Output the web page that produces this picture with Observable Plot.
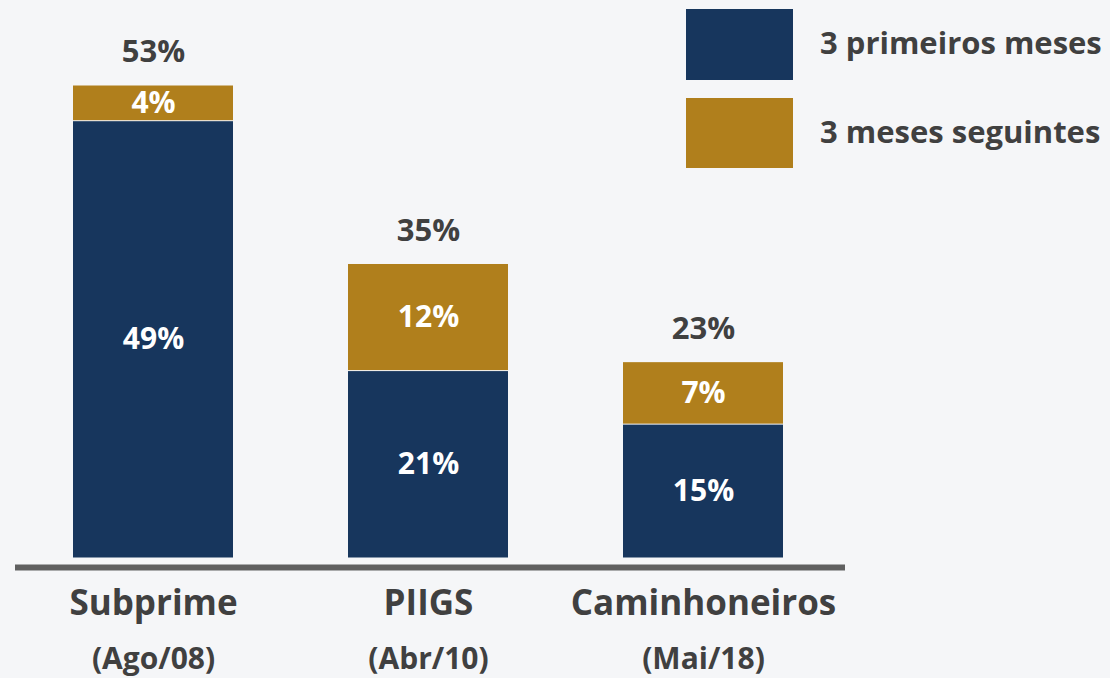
<!DOCTYPE html>
<html>
<head>
<meta charset="utf-8">
<script src="https://cdn.jsdelivr.net/npm/d3@7"></script>
<script src="https://cdn.jsdelivr.net/npm/@observablehq/plot@0.6"></script>
<style>
  html, body { margin: 0; padding: 0; background: #f5f6f8; }
  body { width: 1110px; height: 678px; position: relative; overflow: hidden; font-family: "Open Sans", sans-serif; }
  #chart { position: absolute; left: 0; top: 0; }
  .legend { position: absolute; left: 686px; top: 9px; }
  .item { position: absolute; left: 0; width: 440px; }
  .sw { position: absolute; left: 0; width: 107px; }
  .lbl { position: absolute; left: 134px; font-weight: 700; font-size: 31px; color: #404040; white-space: nowrap; line-height: 1; }
</style>
</head>
<body>
<div id="chart"></div>
<div class="legend" id="legend"></div>
<script>
const categories = ["Subprime", "PIIGS", "Caminhoneiros"];
const dates = ["(Ago/08)", "(Abr/10)", "(Mai/18)"];
const series = ["3 primeiros meses", "3 meses seguintes"];
const first3 = [49, 21, 15];
const next3 = [4, 12, 7];
const totals = [53, 35, 23];
const colors = ["#17365d", "#b07f1c"];

const stacked = [];
categories.forEach((c, i) => {
  stacked.push({cat: c, series: series[0], value: first3[i]});
  stacked.push({cat: c, series: series[1], value: next3[i]});
});
const totalRows = categories.map((c, i) => ({cat: c, total: totals[i], top: first3[i] + next3[i], date: dates[i]}));

const font = "Open Sans, sans-serif";

const chart = Plot.plot({
  width: 1110,
  height: 678,
  marginLeft: 72,
  marginRight: 327,
  marginTop: 85,
  marginBottom: 120,
  style: {background: "transparent", fontFamily: font},
  x: {domain: categories, paddingInner: 0.419, paddingOuter: 0, axis: null},
  y: {domain: [0, 53], axis: null},
  color: {domain: series, range: colors},
  marks: [
    Plot.barY(stacked, Plot.stackY({x: "cat", y: "value", z: "series", fill: "series", order: series, insetTop: 0.5, insetBottom: 0.5})),
    Plot.text(stacked, Plot.stackY({x: "cat", y: "value", z: "series", order: series, text: d => d.value + "%", fill: "#ffffff", fontSize: 30, fontWeight: 700, fontFamily: font})),
    Plot.text(totalRows, {x: "cat", y: "top", text: d => d.total + "%", dy: -33, fill: "#404040", fontSize: 31, fontWeight: 700, fontFamily: font}),
    Plot.ruleY([0], {dy: 9, insetLeft: -57, insetRight: -62, stroke: "#606060", strokeWidth: 6}),
    Plot.text(totalRows, {x: "cat", y: 0, text: "cat", dy: 45, fill: "#404040", fontSize: 35, fontWeight: 700, fontFamily: font}),
    Plot.text(totalRows, {x: "cat", y: 0, text: "date", dy: 101, fill: "#404040", fontSize: 30, fontWeight: 700, fontFamily: font})
  ]
});
document.getElementById("chart").appendChild(chart);

const legend = document.getElementById("legend");
const tops = [0, 89];
const heights = [71, 70];
series.forEach((s, i) => {
  const item = document.createElement("div");
  item.className = "item";
  item.style.top = tops[i] + "px";
  const sw = document.createElement("div");
  sw.className = "sw";
  sw.style.height = heights[i] + "px";
  sw.style.background = colors[i];
  const lbl = document.createElement("div");
  lbl.className = "lbl";
  lbl.style.top = "18px";
  lbl.textContent = s;
  item.appendChild(sw);
  item.appendChild(lbl);
  legend.appendChild(item);
});
</script>
</body>
</html>
